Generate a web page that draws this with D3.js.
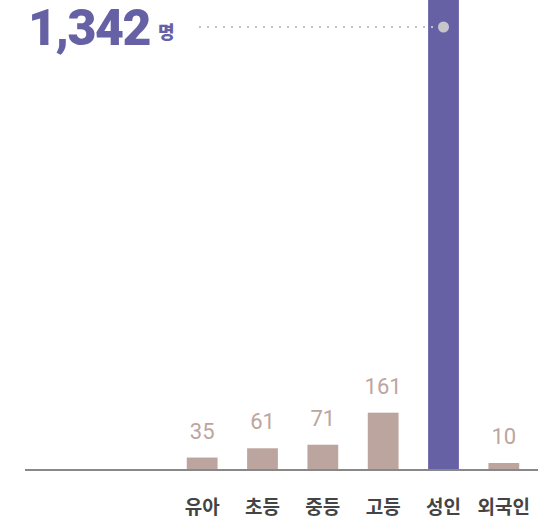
<!DOCTYPE html>
<html>
<head>
<meta charset="utf-8">
<script src="https://cdn.jsdelivr.net/npm/d3@7"></script>
<style>
  body { margin: 0; background: #fff; }
  svg { display: block; font-family: Roboto, 'Noto Sans CJK KR', sans-serif; }
</style>
</head>
<body>
<div id="chart"></div>
<script>
const categories = ['유아', '초등', '중등', '고등', '성인', '외국인'];
const values = [35, 61, 71, 161, 1342, 10];
const highlight = '성인';
const unitLabel = '명';

const width = 538;
const height = 521;
const baseline = 470;

const svg = d3.select('#chart').append('svg')
  .attr('width', width)
  .attr('height', height)
  .attr('viewBox', [0, 0, width, height]);

const xScale = d3.scaleBand()
  .domain(categories)
  .range([172, 534])
  .paddingInner(0.49)
  .paddingOuter(0.245);

const yScale = d3.scaleLinear()
  .domain([0, 1000])
  .range([baseline, baseline - 356]);

const data = categories.map((c, i) => ({ cat: c, value: values[i] }));

/* BARS */
svg.append('g')
  .selectAll('rect')
  .data(data)
  .join('rect')
  .attr('x', (d) => xScale(d.cat))
  .attr('width', xScale.bandwidth())
  .attr('y', (d) => Math.min(yScale(d.value), baseline - 7))
  .attr('height', (d) => Math.max(baseline - yScale(d.value), 7))
  .attr('fill', (d) => (d.cat === highlight ? '#6660a4' : '#bca59e'));

/* VALUE LABELS */
svg.append('g')
  .selectAll('text')
  .data(data.filter((d) => d.cat !== highlight))
  .join('text')
  .attr('x', (d) => xScale(d.cat) + xScale.bandwidth() / 2)
  .attr('y', (d) => Math.min(yScale(d.value), baseline - 7) - 19)
  .attr('text-anchor', 'middle')
  .attr('fill', '#bca59e')
  .style('font-size', '22px')
  .text((d) => d.value);

/* AXIS */
const xAxis = (g) => g
  .attr('transform', `translate(0, ${baseline})`)
  .call(d3.axisBottom(xScale).tickSize(0).tickPadding(31))
  .call(() => g.select('.domain').remove())
  .call(() => g.selectAll('.tick text')
    .attr('fill', '#444')
    .style('font-size', '19px')
    .style('font-weight', 'bold')
    .style('font-family', "'Noto Sans CJK KR', sans-serif"))
  .call(() => g.append('line')
    .attr('x1', 25)
    .attr('x2', width)
    .attr('stroke', '#888')
    .attr('stroke-width', 2));

svg.append('g').call(xAxis);

/* HIGHLIGHT CALLOUT */
const hi = data.find((d) => d.cat === highlight);
const hx = xScale(hi.cat) + xScale.bandwidth() / 2;
const hy = 27;

svg.append('line')
  .attr('x1', 199)
  .attr('x2', hx - 8)
  .attr('y1', hy)
  .attr('y2', hy)
  .attr('stroke', '#c2c2c6')
  .attr('stroke-width', 2)
  .attr('stroke-dasharray', '2,6');

svg.append('circle')
  .attr('cx', hx)
  .attr('cy', hy)
  .attr('r', 5.5)
  .attr('fill', '#c6c6ca');

const callout = svg.append('text')
  .attr('x', 28)
  .attr('y', 45)
  .attr('fill', '#6660a4')
  .style('font-weight', '900');

callout.append('tspan')
  .style('font-size', '50px')
  .style('letter-spacing', '-1.5px')
  .text(d3.format(',')(hi.value));

callout.append('tspan')
  .attr('dx', 8)
  .attr('dy', -6)
  .style('font-size', '18px')
  .style('font-family', "'Noto Sans CJK KR', sans-serif")
  .text(unitLabel);
</script>
</body>
</html>
